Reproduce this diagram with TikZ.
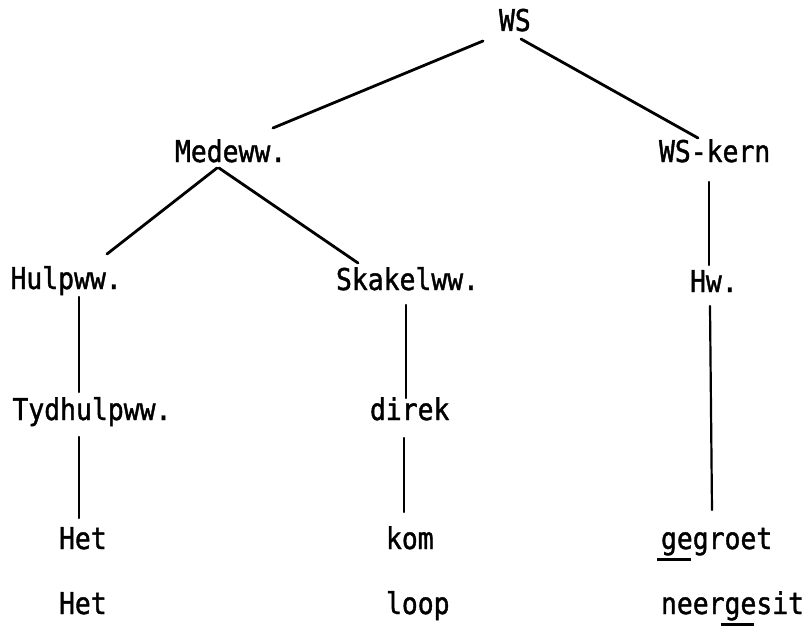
\documentclass[tikz,border=0pt]{standalone}
\usepackage{fontspec}
\usetikzlibrary{calc}
\newfontfamily\twfont[FakeStretch=0.88,FakeBold=1.3]{DejaVu Sans Mono}
\newcommand\geul[1]{\setbox0=\hbox{#1}\rlap{\kern-4pt\vrule width\dimexpr\wd0+2pt\relax height -9pt depth 11.8pt}\box0}
\begin{document}
\begin{tikzpicture}[x=1pt,y=-1pt,
  lbl/.style={anchor=base west,inner sep=0pt,outer sep=0pt,font=\twfont\fontsize{30}{36}\selectfont},
  edge/.style={line width=2.8pt,line cap=round},
  vedge/.style={line width=2.2pt,line cap=round}]
\useasboundingbox (0,0) rectangle (807,626);
\node[lbl] (WS)   at (499,31)   {WS};
\node[lbl] (Med)  at (175,162)  {Medeww.};
\node[lbl] (Kern) at (659,162)  {WS-kern};
\node[lbl] (Hulp) at (10.5,289) {Hulpww.};
\node[lbl] (Skak) at (336,290)  {Skakelww.};
\node[lbl] (Hw)   at (690,292)  {Hw.};
\node[lbl] (Tyd)  at (12.5,420) {Tydhulpww.};
\node[lbl] (Dir)  at (370,420)  {direk};
\node[lbl] (Het)  at (59,549)   {Het};
\node[lbl] (Kom)  at (386,549)  {kom};
\node[lbl] (Geg)  at (661,549)  {\geul{ge}groet};
\node[lbl] (Het2) at (59,614)   {Het};
\node[lbl] (Loop) at (386,614)  {loop};
\node[lbl] (Neer) at (661,614)  {neer\geul{ge}sit};
\draw[edge] ($(WS.base west)+(-16,10)$) -- ($(Med.base west)+(98,-34)$);
\draw[edge] ($(WS.base west)+(22,8)$) -- ($(Kern.base west)+(39,-24)$);
\draw[edge] ($(Med.base west)+(42,6)$) -- ($(Hulp.base west)+(96.5,-35)$);
\draw[edge] ($(Med.base west)+(44,6)$) -- ($(Skak.base west)+(22,-27)$);
\draw[vedge] ($(Kern.base west)+(50,20)$) -- ($(Hw.base west)+(19,-27)$);
\draw[vedge] ($(Hulp.base west)+(68.5,8)$) -- ($(Tyd.base west)+(66.5,-28)$);
\draw[vedge] ($(Skak.base west)+(70,15)$) -- ($(Dir.base west)+(36,-22)$);
\draw[vedge] ($(Tyd.base west)+(66.5,17)$) -- ($(Het.base west)+(20,-31)$);
\draw[vedge] ($(Dir.base west)+(34,18)$) -- ($(Kom.base west)+(18,-37)$);
\draw[vedge] ($(Hw.base west)+(20,14)$) -- ($(Geg.base west)+(51,-39)$);
\end{tikzpicture}
\end{document}
